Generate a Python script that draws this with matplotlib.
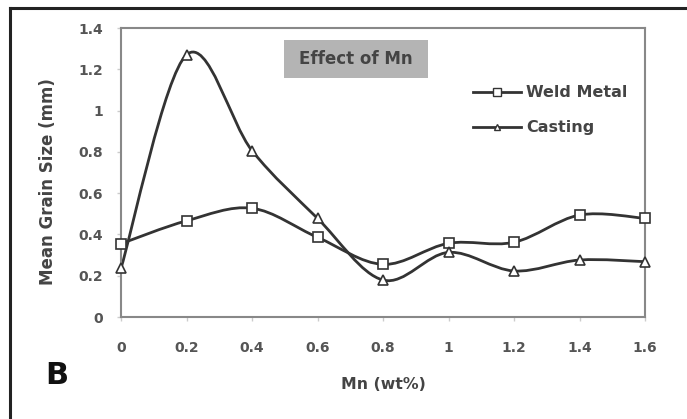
import numpy as np
import matplotlib.pyplot as plt
from matplotlib.path import Path
from matplotlib.patches import PathPatch, Rectangle
from matplotlib.lines import Line2D

mn = [0, 0.2, 0.4, 0.6, 0.8, 1.0, 1.2, 1.4, 1.6]
weld_metal = [0.355, 0.466, 0.527, 0.386, 0.255, 0.357, 0.362, 0.494, 0.478]
casting = [0.236, 1.27, 0.806, 0.478, 0.179, 0.313, 0.223, 0.276, 0.268]
x_ticks = [0, 0.2, 0.4, 0.6, 0.8, 1, 1.2, 1.4, 1.6]
x_tick_labels = ['0', '0.2', '0.4', '0.6', '0.8', '1', '1.2', '1.4', '1.6']
y_ticks = [0, 0.2, 0.4, 0.6, 0.8, 1.0, 1.2, 1.4]
y_tick_labels = ['0', '0.2', '0.4', '0.6', '0.8', '1', '1.2', '1.4']


def smooth_path(xs, ys):
    # excel-like smoothed line: cubic bezier through the points
    p = np.column_stack([xs, ys]).astype(float)
    n = len(p)
    verts = [p[0]]
    codes = [Path.MOVETO]
    for i in range(n - 1):
        p0 = p[i - 1] if i > 0 else p[i]
        p3 = p[i + 2] if i + 2 < n else p[i + 1]
        c1 = p[i] + (p[i + 1] - p0) / 6
        c2 = p[i + 1] - (p3 - p[i]) / 6
        verts += [c1, c2, p[i + 1]]
        codes += [Path.CURVE4] * 3
    return Path(verts, codes)


fig = plt.figure(figsize=(6.87, 4.19), dpi=100)
fig.patch.set_facecolor('white')

# outer frame (top and left only)
fig.add_artist(Line2D([9.5 / 687, 9.5 / 687], [0, 1 - 8 / 419], color='#222222', lw=2.2))
fig.add_artist(Line2D([9.5 / 687, 1], [1 - 8 / 419, 1 - 8 / 419], color='#222222', lw=2.2))

ax = fig.add_axes([121 / 687, 1 - 317 / 419, (645 - 121) / 687, (317 - 28) / 419])
ax.set_xlim(0, 1.6)
ax.set_ylim(0, 1.4)

line_col = '#333333'
for ys, marker, ms in [(weld_metal, 's', 7.5), (casting, '^', 7)]:
    ax.add_patch(PathPatch(smooth_path(mn, ys), facecolor='none', edgecolor=line_col, lw=2, zorder=2))
    ax.plot(mn, ys, linestyle='none', marker=marker, ms=ms, mfc='white', mec=line_col, mew=1.2,
            zorder=3, clip_on=False)

for s in ax.spines.values():
    s.set_color('#888888')
    s.set_linewidth(1.5)

ax.set_xticks(x_ticks)
ax.set_xticklabels(x_tick_labels)
ax.set_yticks(y_ticks)
ax.set_yticklabels(y_tick_labels)
ax.tick_params(colors='#cccccc', labelcolor='#555555', length=3, width=1, labelsize=10)
ax.tick_params(axis='x', pad=14)
ax.tick_params(axis='y', pad=10)
for lab in ax.get_xticklabels() + ax.get_yticklabels():
    lab.set_fontweight('bold')

ax.set_ylabel('Mean Grain Size (mm)', fontsize=12, fontweight='bold', color='#444444')
ax.yaxis.set_label_coords(-64 / 524, 0.47)
ax.set_xlabel('Mn (wt%)', fontsize=11.3, fontweight='bold', color='#444444', labelpad=16)

# title box
ax.add_patch(Rectangle((0.497, 1.158), 0.44, 0.184, facecolor='#b4b4b4', edgecolor='none', zorder=1))
ax.text(0.7155, 1.25, 'Effect of Mn', fontsize=12, fontweight='bold', color='#444444',
        ha='center', va='center', zorder=2)

# legend
leg_handles = [
    Line2D([], [], color=line_col, lw=2, marker='s', ms=5.5, mfc='white', mec=line_col),
    Line2D([], [], color=line_col, lw=2, marker='^', ms=5, mfc='white', mec=line_col),
]
ax.legend(leg_handles, ['Weld Metal', 'Casting'], loc='upper left', bbox_to_anchor=(0.644, 0.852),
          frameon=False, handlelength=3.0, handletextpad=0.35, labelspacing=1.25,
          prop={'weight': 'bold', 'size': 11.5}, labelcolor='#444444')

fig.text(45 / 687, 1 - 384 / 419, 'B', fontsize=22, fontweight='bold', color='#111111')

fig.savefig('out.png', dpi=100)
